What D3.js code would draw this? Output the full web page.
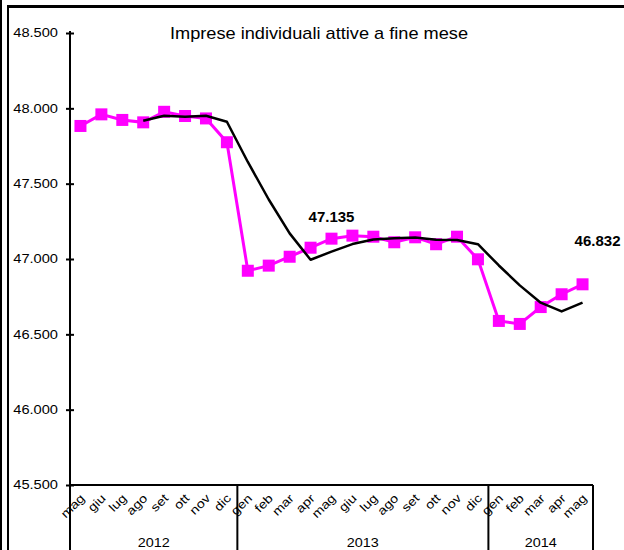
<!DOCTYPE html>
<html><head><meta charset="utf-8">
<script src="https://cdn.jsdelivr.net/npm/d3@7"></script>
<style>body{margin:0;background:#fff}svg{display:block}</style>
</head><body>
<svg id="c" width="624" height="550"></svg>
<script>
const months = ["mag","giu","lug","ago","set","ott","nov","dic","gen","feb","mar","apr","mag","giu","lug","ago","set","ott","nov","dic","gen","feb","mar","apr","mag"];
const years = ["2012","2013","2014"];
const yearCounts = [8, 12, 5];
const imprese = [47883,47960,47923,47907,47977,47949,47933,47775,46922,46956,47015,47075,47135,47155,47148,47111,47144,47098,47148,46998,46589,46569,46681,46766,46832];
const mediaMobile = [null,null,null,47918,47951,47944,47951,47911,47644,47395,47170,46995,47049,47099,47130,47138,47143,47127,47126,47098,46957,46825,46710,46652,46711];
const yTicks = [45500,46000,46500,47000,47500,48000,48500];
const title = "Imprese individuali attive a fine mese";
const labelledPoints = [12, 24];

const FONT = "'Liberation Sans', Arial, sans-serif";
const loc = d3.formatLocale({decimal: ",", thousands: ".", grouping: [3], currency: ["", "€"]});
const fmt = loc.format(",.0f");

const svg = d3.select("#c");
const pLeft = 70, pRight = 593, pTop = 33, pBottom = 485;

const x = d3.scaleBand().domain(d3.range(months.length)).range([pLeft, pRight]).padding(0);
const y = d3.scaleLinear().domain([45500, 48500]).range([pBottom, pTop]);
const cx = i => x(i) + x.bandwidth() / 2;

// outer frame
svg.append("line").attr("x1", 1).attr("x2", 1).attr("y1", 0).attr("y2", 550).attr("stroke", "#000").attr("stroke-width", 2);
svg.append("line").attr("x1", 8).attr("x2", 8).attr("y1", 5).attr("y2", 550).attr("stroke", "#000").attr("stroke-width", 2);
svg.append("line").attr("x1", 7).attr("x2", 624).attr("y1", 6.5).attr("y2", 6.5).attr("stroke", "#000").attr("stroke-width", 3);

// title
svg.append("text").attr("x", 319).attr("y", 39).attr("text-anchor", "middle")
  .attr("font-family", FONT).attr("font-size", 17).attr("fill", "#000")
  .attr("textLength", 298).attr("lengthAdjust", "spacingAndGlyphs").text(title);

function stretch(sel, k) {
  sel.each(function() {
    const w = this.getComputedTextLength();
    d3.select(this).attr("textLength", w * k).attr("lengthAdjust", "spacingAndGlyphs");
  });
}

// y axis
const yAxis = d3.axisLeft(y).tickValues(yTicks).tickFormat(fmt).tickSizeInner(4).tickSizeOuter(0).tickPadding(8);
const gy = svg.append("g").attr("transform", `translate(${pLeft},0)`).call(yAxis);
gy.select(".domain").remove();
gy.selectAll(".tick line").attr("x1", -4).attr("x2", 4).attr("stroke", "#000").attr("stroke-width", 2);
gy.selectAll(".tick text").attr("font-family", FONT).attr("font-size", 12).attr("fill", "#000").call(stretch, 1.22);
svg.append("line").attr("x1", pLeft).attr("x2", pLeft).attr("y1", pTop - 2).attr("y2", 550).attr("stroke", "#000").attr("stroke-width", 2);

// x axis
svg.append("line").attr("x1", pLeft).attr("x2", pRight).attr("y1", pBottom).attr("y2", pBottom).attr("stroke", "#000").attr("stroke-width", 2);
let acc = 0;
const yearBounds = yearCounts.map(n => { const s = acc; acc += n; return [s, acc]; });
yearBounds.forEach(([s, e], i) => {
  const xe = e < months.length ? x(e) : pRight;
  svg.append("line").attr("x1", xe).attr("x2", xe).attr("y1", pBottom).attr("y2", 550).attr("stroke", "#000").attr("stroke-width", 2);
  const xs = x(s);
  svg.append("text").attr("x", (xs + xe) / 2).attr("y", 547).attr("text-anchor", "middle")
    .attr("font-family", FONT).attr("font-size", 12).attr("fill", "#000").text(years[i]).call(stretch, 1.2);
});
svg.append("g").selectAll("text").data(months).join("text")
  .attr("transform", (d, i) => `translate(${cx(i) + 5},${pBottom + 14}) rotate(-45)`)
  .attr("text-anchor", "end").attr("font-family", FONT).attr("font-size", 12).attr("fill", "#000")
  .text(d => d).call(stretch, 1.2);

// lines
const lineGen = d3.line().defined(d => d != null).x((d, i) => cx(i)).y(d => y(d));
svg.append("path").datum(imprese).attr("d", lineGen).attr("fill", "none").attr("stroke", "#FF00FF").attr("stroke-width", 3);
svg.append("g").selectAll("rect").data(imprese).join("rect")
  .attr("x", (d, i) => cx(i) - 6).attr("y", d => y(d) - 6).attr("width", 12).attr("height", 12).attr("fill", "#FF00FF");
svg.append("path").datum(mediaMobile).attr("d", lineGen).attr("fill", "none").attr("stroke", "#000").attr("stroke-width", 2.5).attr("stroke-linejoin", "round");

// data labels
const labelOffsets = {12: [0, -17], 24: [15, -38]};
svg.append("g").selectAll("text").data(labelledPoints).join("text")
  .attr("x", i => cx(i) + labelOffsets[i][0]).attr("y", i => y(imprese[i]) + labelOffsets[i][1])
  .attr("text-anchor", "middle").attr("font-family", FONT).attr("font-size", 15).attr("font-weight", "bold").attr("fill", "#000")
  .text(i => fmt(imprese[i]));
</script>
</body></html>
